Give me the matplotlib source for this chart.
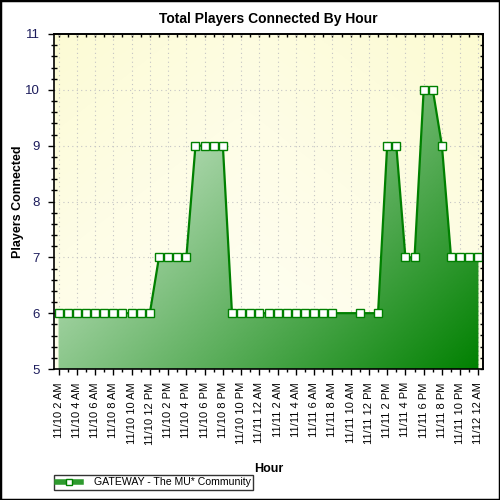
import matplotlib
matplotlib.use("Agg")
import matplotlib.pyplot as plt
import numpy as np
from matplotlib.patches import Polygon, Rectangle
from matplotlib.colors import LinearSegmentedColormap
from matplotlib.ticker import MultipleLocator
from matplotlib.lines import Line2D

plt.rcParams['font.family'] = ['Liberation Sans', 'DejaVu Sans']

# hours since 11/10 12 AM
hours = [2, 3, 4, 5, 6, 7, 8, 9, 10, 11, 12,
         13, 14, 15, 16,
         17, 18, 19, 20,
         21, 22, 23, 24, 25, 26, 27, 28, 29, 30, 31, 32,
         35, 37,
         38, 39, 40, 41, 42, 43, 44,
         45, 46, 47, 48]
players = [6, 6, 6, 6, 6, 6, 6, 6, 6, 6, 6,
           7, 7, 7, 7,
           9, 9, 9, 9,
           6, 6, 6, 6, 6, 6, 6, 6, 6, 6, 6, 6,
           6, 6,
           9, 9, 7, 7, 10, 10, 9,
           7, 7, 7, 7]

tick_hours = list(range(2, 49, 2))
tick_labels = ["11/10 2 AM", "11/10 4 AM", "11/10 6 AM", "11/10 8 AM", "11/10 10 AM",
               "11/10 12 PM", "11/10 2 PM", "11/10 4 PM", "11/10 6 PM", "11/10 8 PM",
               "11/10 10 PM", "11/11 12 AM", "11/11 2 AM", "11/11 4 AM", "11/11 6 AM",
               "11/11 8 AM", "11/11 10 AM", "11/11 12 PM", "11/11 2 PM", "11/11 4 PM",
               "11/11 6 PM", "11/11 8 PM", "11/11 10 PM", "11/12 12 AM"]

series_name = "GATEWAY - The MU* Community"
title = "Total Players Connected By Hour"

fig = plt.figure(figsize=(5, 5), dpi=100)
ax = fig.add_axes([0.108, 0.262, 0.858, 0.670])
x0, x1, y0, y1 = 1.5, 48.5, 5, 11
ax.set_xlim(x0, x1)
ax.set_ylim(y0, y1)

# background gradient
bg_cmap = LinearSegmentedColormap.from_list("bg", ["#fffff4", "#fefde6", "#fcfbd2"])
gx, gy = np.meshgrid(np.linspace(0, 1, 200), np.linspace(0, 1, 200))
bg = np.clip(0.55 * gy + 0.45 * np.abs(gx - 0.45) * 1.2, 0, 1)
ax.imshow(bg, extent=[x0, x1, y0, y1], origin='lower', aspect='auto',
          cmap=bg_cmap, zorder=0, interpolation='bilinear')

# grid
for xt in tick_hours:
    ax.axvline(xt, color='#c4c4c4', lw=0.8, ls=(0, (1, 3)), zorder=1)
for yt in range(6, 11):
    ax.axhline(yt, color='#c4c4c4', lw=0.8, ls=(0, (1, 3)), zorder=1)

# gradient fill under curve
fill_cmap = LinearSegmentedColormap.from_list("fill", ["#fbfffb", "#008000"])
W, H = 429.0, 335.0
fx, fy = np.meshgrid(np.linspace(0, 1, 300), np.linspace(0, 1, 300))
t = (fx * W + (1 - fy) * H) / (W + H)
im = ax.imshow(t, extent=[x0, x1, y0, y1], origin='lower', aspect='auto',
               cmap=fill_cmap, vmin=0, vmax=1, zorder=2, interpolation='bilinear')
verts = [(hours[0], y0)] + list(zip(hours, players)) + [(hours[-1], y0)]
poly = Polygon(verts, closed=True, transform=ax.transData, facecolor='none', edgecolor='none')
ax.add_patch(poly)
im.set_clip_path(poly)

ax.plot(hours, players, color='#008000', lw=1.6, marker='s', markersize=5.6,
        markerfacecolor='white', markeredgecolor='#008000', markeredgewidth=1.0, zorder=4,
        clip_on=False)

# ticks
ax.set_xticks(tick_hours)
ax.set_xticklabels(tick_labels, rotation=90, fontsize=8, va='top', ha='center')
ax.xaxis.set_minor_locator(MultipleLocator(1))
ax.set_yticks(range(5, 12))
ax.set_yticklabels([str(v) for v in range(5, 12)], fontsize=9.5, color='#1c1c5c')
ax.yaxis.set_minor_locator(MultipleLocator(0.2))
ax.tick_params(axis='x', which='major', direction='out', length=4.5, width=1, pad=5)
ax.tick_params(axis='x', which='minor', direction='out', length=2, width=1)
ax.tick_params(axis='y', which='major', direction='out', length=4, width=1, pad=6)
ax.tick_params(axis='y', which='minor', direction='inout', length=4, width=1)

top = ax.secondary_xaxis('top')
top.set_xticks(range(2, 49))
top.tick_params(direction='in', length=2.5, width=1, labeltop=False)
top.xaxis.set_minor_locator(plt.NullLocator())
top.spines['top'].set_linewidth(1.2)
right = ax.secondary_yaxis('right')
right.set_yticks(np.arange(5, 11.01, 0.2))
right.tick_params(direction='in', length=2.5, width=1, labelright=False)
right.yaxis.set_minor_locator(plt.NullLocator())
right.spines['right'].set_linewidth(1.2)

for s in ax.spines.values():
    s.set_linewidth(1.2)
    s.set_zorder(5)

ax.set_title(title, fontsize=10, fontweight='bold', pad=8)
ax.set_xlabel("Hour", fontsize=9, fontweight='bold', labelpad=13)
ax.set_ylabel("Players Connected", fontsize=9, fontweight='bold')
ax.yaxis.set_label_coords(-0.07, 0.5)

# legend
handle = Line2D([], [], color='#2e9a2e', lw=4, marker='s', markersize=5,
                markerfacecolor='white', markeredgecolor='#008000', markeredgewidth=1)
leg = fig.legend([handle], [series_name], loc='lower left', bbox_to_anchor=(0.108, 0.02),
                 fontsize=7.6, frameon=True, fancybox=False, edgecolor='black',
                 handlelength=2.3, borderpad=0.25, handletextpad=1.2, borderaxespad=0)
leg.get_frame().set_linewidth(1)

fig.patches.append(Rectangle((0, 0), 1, 1, transform=fig.transFigure, fill=False,
                             edgecolor='black', lw=2.5, zorder=10))

fig.savefig("out.png", dpi=100)
